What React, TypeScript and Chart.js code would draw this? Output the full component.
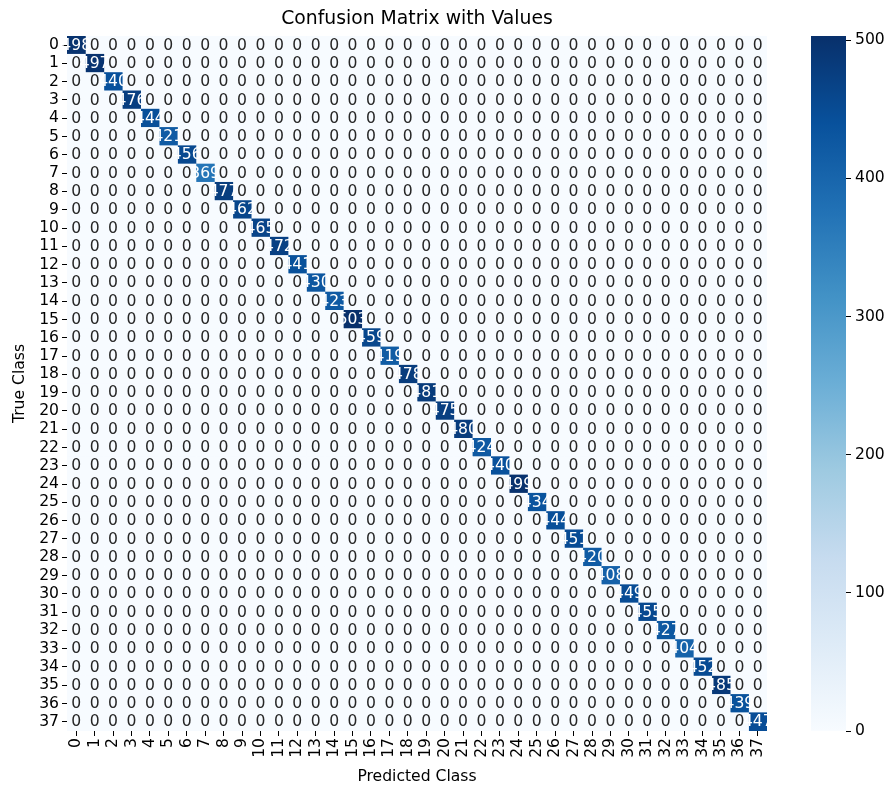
import React, { useEffect, useRef } from "react";
import { Chart, registerables } from "chart.js";

Chart.register(...registerables);

const classLabels = [
  "0", "1", "2", "3", "4", "5", "6", "7", "8", "9",
  "10", "11", "12", "13", "14", "15", "16", "17", "18", "19",
  "20", "21", "22", "23", "24", "25", "26", "27", "28", "29",
  "30", "31", "32", "33", "34", "35", "36", "37",
];
const diagonalCounts = [
  498, 497, 440, 476, 444, 421, 456, 369, 477, 462,
  465, 472, 441, 430, 423, 503, 459, 419, 478, 481,
  475, 480, 424, 440, 499, 434, 444, 451, 420, 408,
  449, 455, 427, 404, 452, 485, 439, 447,
];
const offDiagonalCount = 0;
const colorbarTicks = [0, 100, 200, 300, 400, 500];

const BLUES = [
  "#f7fbff", "#deebf7", "#c6dbef", "#9ecae1", "#6baed6",
  "#4292c6", "#2171b5", "#08519c", "#08306b",
];

const FONT_FAMILY = '"DejaVu Sans", "Liberation Sans", sans-serif';
const TICK_SIZE = 15.6;
const TITLE_SIZE = 18.8;

function hexToRgb(h: string) {
  return [
    parseInt(h.slice(1, 3), 16),
    parseInt(h.slice(3, 5), 16),
    parseInt(h.slice(5, 7), 16),
  ];
}

function bluesRgb(t: number) {
  const c = Math.max(0, Math.min(1, t)) * (BLUES.length - 1);
  const i = Math.min(BLUES.length - 2, Math.floor(c));
  const f = c - i;
  const a = hexToRgb(BLUES[i]);
  const b = hexToRgb(BLUES[i + 1]);
  return [0, 1, 2].map((k) => Math.round(a[k] + (b[k] - a[k]) * f));
}

function rgbStr(rgb: number[]) {
  return `rgb(${rgb[0]},${rgb[1]},${rgb[2]})`;
}

function luminance(rgb: number[]) {
  const lin = rgb.map((v) => {
    const s = v / 255;
    return s <= 0.03928 ? s / 12.92 : Math.pow((s + 0.055) / 1.055, 2.4);
  });
  return 0.2126 * lin[0] + 0.7152 * lin[1] + 0.0722 * lin[2];
}

const matrix = classLabels.map((_, i) =>
  classLabels.map((__, j) => (i === j ? diagonalCounts[i] : offDiagonalCount))
);
const vmin = 0;
const vmax = Math.max(...diagonalCounts);

export default function App() {
  const mainRef = useRef<HTMLCanvasElement>(null);
  const barRef = useRef<HTMLCanvasElement>(null);

  useEffect(() => {
    const tickFont = { family: FONT_FAMILY, size: TICK_SIZE };

    const annotate = {
      id: "annotate",
      afterDatasetsDraw(chart: any) {
        const ctx = chart.ctx;
        ctx.save();
        ctx.font = `${TICK_SIZE}px ${FONT_FAMILY}`;
        ctx.textAlign = "center";
        ctx.textBaseline = "middle";
        chart.data.datasets.forEach((_: any, j: number) => {
          const meta = chart.getDatasetMeta(j);
          meta.data.forEach((el: any, i: number) => {
            const v = matrix[i][j];
            const rgb = bluesRgb((v - vmin) / (vmax - vmin));
            ctx.fillStyle = luminance(rgb) > 0.408 ? "#262626" : "#ffffff";
            const { x, y, base } = el.getProps(["x", "y", "base"], true);
            ctx.fillText(String(v), (x + base) / 2, y + 0.5);
          });
        });
        ctx.restore();
      },
    };

    const datasets = classLabels.map((lbl, j) => ({
      label: lbl,
      data: classLabels.map(() => 1),
      backgroundColor: classLabels.map((__, i) =>
        rgbStr(bluesRgb((matrix[i][j] - vmin) / (vmax - vmin)))
      ),
      borderWidth: 0,
      barPercentage: 1,
      categoryPercentage: 1,
      stack: "cm",
    }));

    const main = new Chart(mainRef.current as HTMLCanvasElement, {
      type: "bar",
      data: { labels: classLabels, datasets },
      options: {
        indexAxis: "y",
        animation: false,
        responsive: false,
        maintainAspectRatio: false,
        layout: { padding: { left: 0, right: 120, top: 0, bottom: 0 } },
        plugins: {
          legend: { display: false },
          tooltip: { enabled: false },
          title: {
            display: true,
            text: "Confusion Matrix with Values",
            fullSize: false,
            color: "#000",
            font: { family: FONT_FAMILY, size: TITLE_SIZE, weight: "normal" },
            padding: { top: 8, bottom: 5.4 },
          },
        },
        scales: {
          x: {
            type: "linear",
            stacked: true,
            min: 0,
            max: classLabels.length,
            afterBuildTicks: (axis: any) => {
              axis.ticks = classLabels.map((_, j) => ({ value: j + 0.5 }));
            },
            ticks: {
              autoSkip: false,
              minRotation: 90,
              maxRotation: 90,
              color: "#000",
              font: tickFont,
              padding: 2,
              callback: (v: any) => classLabels[Math.round(Number(v) - 0.5)],
            },
            grid: {
              display: true,
              drawOnChartArea: false,
              drawTicks: true,
              tickLength: 5,
              color: "#000",
            },
            border: { display: false },
            title: {
              display: true,
              text: "Predicted Class",
              color: "#000",
              font: tickFont,
              padding: { top: 1.6, bottom: 0 },
            },
            afterFit: (s: any) => {
              s.height = 55;
            },
          },
          y: {
            type: "category",
            stacked: true,
            offset: true,
            ticks: { autoSkip: false, color: "#000", font: tickFont, padding: 3 },
            grid: {
              display: true,
              offset: false,
              drawOnChartArea: false,
              drawTicks: true,
              tickLength: 5,
              color: "#000",
            },
            border: { display: false },
            title: {
              display: true,
              text: "True Class",
              color: "#000",
              font: tickFont,
              padding: { top: 11, bottom: 0 },
            },
            afterFit: (s: any) => {
              s.width = 67;
            },
          },
        },
      } as any,
      plugins: [annotate],
    });

    const colorbar = new Chart(barRef.current as HTMLCanvasElement, {
      type: "bar",
      data: {
        labels: [""],
        datasets: [
          {
            data: [[vmin, vmax]] as any,
            backgroundColor: (c: any) => {
              const area = c.chart.chartArea;
              if (!area) return BLUES[4];
              const g = c.chart.ctx.createLinearGradient(0, area.bottom, 0, area.top);
              BLUES.forEach((col, k) => g.addColorStop(k / (BLUES.length - 1), col));
              return g;
            },
            borderWidth: 0,
            barPercentage: 1,
            categoryPercentage: 1,
          },
        ],
      },
      options: {
        animation: false,
        responsive: false,
        maintainAspectRatio: false,
        layout: { padding: { left: 31, top: 36, bottom: 55, right: 0 } },
        plugins: { legend: { display: false }, tooltip: { enabled: false } },
        scales: {
          x: { display: false },
          y: {
            position: "right",
            min: vmin,
            max: vmax,
            afterBuildTicks: (axis: any) => {
              axis.ticks = colorbarTicks.map((v) => ({ value: v }));
            },
            ticks: { color: "#000", font: tickFont, padding: 4 },
            grid: {
              display: true,
              drawOnChartArea: false,
              drawTicks: true,
              tickLength: 5,
              color: "#000",
            },
            border: { display: false },
            afterFit: (s: any) => {
              s.width = 41;
            },
          },
        },
      } as any,
    });

    return () => {
      main.destroy();
      colorbar.destroy();
    };
  }, []);

  return (
    <div
      style={{
        position: "fixed",
        left: 0,
        top: 0,
        width: 887,
        height: 786,
        background: "#fff",
        overflow: "hidden",
      }}
    >
      <canvas
        ref={mainRef}
        width={887}
        height={786}
        style={{ position: "absolute", left: 0, top: 0, width: 887, height: 786 }}
      />
      <canvas
        ref={barRef}
        width={107}
        height={786}
        style={{ position: "absolute", left: 780, top: 0, width: 107, height: 786 }}
      />
    </div>
  );
}
